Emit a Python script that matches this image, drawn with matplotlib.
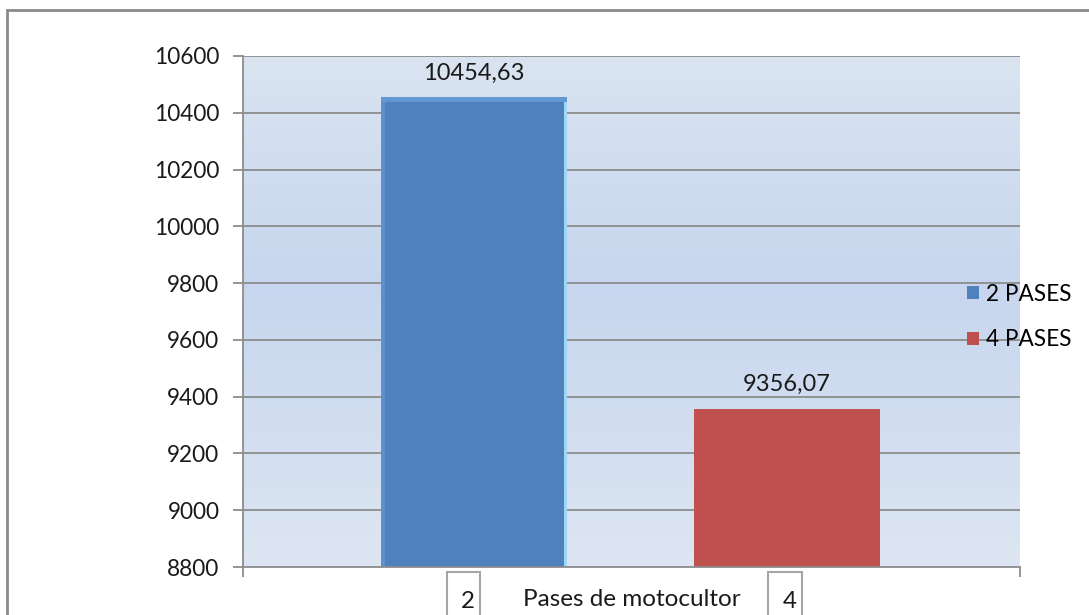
import numpy as np
import matplotlib
matplotlib.use('Agg')
from matplotlib import pyplot as plt
from matplotlib.patches import Rectangle, Patch
from matplotlib.colors import to_rgb

plt.rcParams['font.family'] = ['Lato', 'DejaVu Sans']

# data
categories = ['2', '4']
series = ['2 PASES', '4 PASES']
values = [10454.63, 9356.07]
yticks = list(range(8800, 10601, 200))
xlabel = 'Pases de motocultor'

colors = ['#4f81bd', '#c0504d']
FS = 16.3

fig = plt.figure(figsize=(10.89, 6.15), dpi=100)
ax = fig.add_axes([243/1089, 1-567/615, 777/1089, 511/615])

ymin, ymax = 8800, 10600
xlo, xhi = -0.738, 1.744

# plot area gradient (light blue, darker in the middle)
stops = [(0.0, '#dde6f2'), (0.55, '#c7d6ee'), (1.0, '#dae4f1')]
t = np.linspace(0, 1, 256)
grad = np.zeros((256, 1, 3))
for c in range(3):
    grad[:, 0, c] = np.interp(t, [s[0] for s in stops], [to_rgb(s[1])[c] for s in stops])
ax.imshow(grad, extent=[xlo, xhi, ymax, ymin], aspect='auto', zorder=0)
ax.set_xlim(xlo, xhi)
ax.set_ylim(ymin, ymax)

# gridlines
for yv in yticks[1:]:
    ax.axhline(yv, color='#8c8c8c', lw=1.3, zorder=1)

# bars
x = np.arange(len(values))
width = 0.594
ax.bar(x, [v - ymin for v in values], width, bottom=ymin, color=colors, zorder=2)
# bevel on the blue bar
ax.bar(x[0] + width/2 - 0.005, values[0] - ymin, 0.01, bottom=ymin, color='#9fd6f6', zorder=3)
ax.bar(x[0] - width/2 + 0.006, values[0] - ymin, 0.012, bottom=ymin, color='#5e90cd', zorder=3)
ax.bar(x[0], 16, width, bottom=values[0] - 16, color='#6497d3', zorder=3)

for xi, v in zip(x, values):
    ax.annotate(f'{v:.2f}'.replace('.', ','), (xi, v), xytext=(0, 10),
                textcoords='offset points', ha='center', va='bottom',
                fontsize=17, color='#1a1a1a', zorder=4)

# axes styling
for s in ['top', 'right']:
    ax.spines[s].set_visible(False)
for s in ['left', 'bottom']:
    ax.spines[s].set_color('#8c8c8c')
    ax.spines[s].set_linewidth(1.3)
    ax.spines[s].set_zorder(5)
ax.set_yticks(yticks)
ax.tick_params(axis='y', length=7, width=1.3, color='#8c8c8c', pad=10,
               labelsize=FS, labelcolor='#1a1a1a')
ax.set_xticks([xlo, xhi])
ax.set_xticklabels([])
ax.tick_params(axis='x', length=7, width=1.3, color='#8c8c8c')

# legend
handles = [Patch(facecolor=c, edgecolor='none') for c in colors]
fig.legend(handles, series, loc='center left', bbox_to_anchor=(967/1089, 1-317/615),
           frameon=False, fontsize=FS, handlelength=0.55, handleheight=0.55,
           handletextpad=0.3, labelspacing=1.1, borderpad=0, borderaxespad=0)

# category labels in boxes and axis title
box_y = 1 - 572/615
for x0, x1, lab in [(447, 480, categories[0]), (768, 802, categories[1])]:
    fig.patches.append(Rectangle((x0/1089, box_y - 0.2), (x1-x0)/1089, 0.2,
                                 transform=fig.transFigure, fill=False,
                                 edgecolor='#a6a6a6', lw=1.5))
    fig.text((x0 + x1)/2/1089 + 0.004, 1-601/615, lab, ha='center', va='center',
             fontsize=FS + 1, color='#1a1a1a')
fig.text(632/1089, 1-600/615, xlabel, ha='center', va='center', fontsize=17.5, color='#1a1a1a')

# outer chart border
fig.patches.append(Rectangle((7/1089, -0.2), 1.2, 1.2 - 10/615, transform=fig.transFigure,
                             fill=False, edgecolor='#8a8a8a', lw=2))

fig.savefig('out.png', dpi=100)
